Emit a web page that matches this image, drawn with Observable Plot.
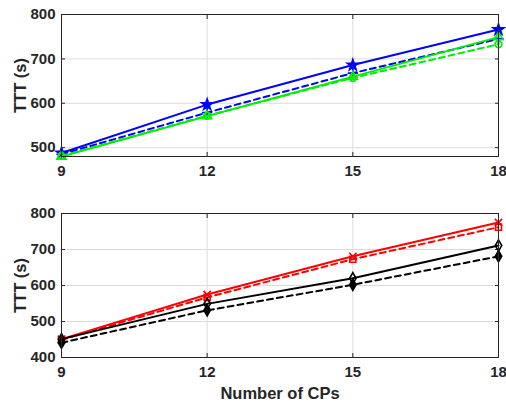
<!DOCTYPE html>
<html>
<head>
<meta charset="utf-8">
<script src="https://cdn.jsdelivr.net/npm/d3@7"></script>
<script src="https://cdn.jsdelivr.net/npm/@observablehq/plot@0.6"></script>
<style>
  body { margin: 0; background: #fff; }
  #chart { width: 506px; height: 410px; position: relative; }
  #chart svg { display: block; }
</style>
</head>
<body>
<div id="chart"></div>
<script>
const cps = [9, 12, 15, 18];
const xTicks = [9, 12, 15, 18];
const topYTicks = [500, 600, 700, 800];
const bottomYTicks = [400, 500, 600, 700, 800];

// top panel
const blueSolid  = [488, 597, 686, 766];
const blueDash   = [485, 579, 668, 745];
const greenSolid = [480, 571, 660, 749];
const greenDash  = [481, 572, 657, 733];
// bottom panel
const redSolid   = [451, 575, 681, 775];
const redDash    = [449, 567, 673, 762];
const blackSolid = [451, 549, 620, 711];
const blackDash  = [441, 531, 602, 681];

const yLabel = "TTT (s)";
const xLabel = "Number of CPs";

function rows(values, name, color, dashed, symbol, filled) {
  return values.map((v, i) => ({x: cps[i], y: v, name, color, dashed, symbol, filled}));
}

const topSeries = [
  rows(blueSolid, "bs", "#0000ff", false, "star", true),
  rows(blueDash, "bd", "#0000ff", true, "plus", false),
  rows(greenSolid, "gs", "#00ee00", false, "triangle", false),
  rows(greenDash, "gd", "#00ee00", true, "circle", false)
];
const bottomSeries = [
  rows(redSolid, "rs", "#ff0000", false, "times", false),
  rows(redDash, "rd", "#ff0000", true, "square", false),
  rows(blackSolid, "ks", "#000000", false, "diamond", false),
  rows(blackDash, "kd", "#000000", true, "diamond", true)
];

const ink = "#262626";

function panel(series, yDomain, yTicks, opts) {
  const marks = [
    Plot.gridX(xTicks, {stroke: "#dcdcdc", strokeOpacity: 1}),
    Plot.gridY(yTicks, {stroke: "#dcdcdc", strokeOpacity: 1}),
    Plot.axisX({ticks: xTicks, tickSize: -4, tickPadding: 13, stroke: ink, fill: ink, label: null}),
    Plot.axisX({anchor: "top", ticks: xTicks, tickSize: -4, tickFormat: () => "", stroke: ink, label: null}),
    Plot.axisY({ticks: yTicks, tickSize: -4, tickPadding: 10, stroke: ink, fill: ink, label: null}),
    Plot.axisY({anchor: "right", ticks: yTicks, tickSize: -4, tickFormat: () => "", stroke: ink, label: null}),
  ];
  for (const s of series) {
    marks.push(Plot.line(s, {
      x: "x", y: "y", stroke: s[0].color, strokeWidth: 2,
      strokeDasharray: s[0].dashed ? "6,4" : null
    }));
    marks.push(Plot.dot(s, {
      x: "x", y: "y", symbol: () => s[0].symbol, r: 3.4,
      stroke: s[0].color, strokeWidth: 1.6,
      fill: s[0].filled ? s[0].color : "none"
    }));
  }
  marks.push(Plot.frame({stroke: ink, strokeWidth: 1}));
  marks.push(Plot.text([yLabel], {
    frameAnchor: "left", dx: -41, rotate: -90, text: d => d,
    fontSize: 16.5, fontWeight: "bold", fill: ink, textAnchor: "middle"
  }));
  if (opts.xLabel) {
    marks.push(Plot.text([opts.xLabel], {
      frameAnchor: "bottom", dy: 36, text: d => d,
      fontSize: 16.5, fontWeight: "bold", fill: ink, lineAnchor: "middle"
    }));
  }
  return Plot.plot({
    width: 506,
    height: opts.height,
    marginLeft: 61,
    marginRight: 8,
    marginTop: opts.marginTop,
    marginBottom: opts.marginBottom,
    x: {domain: [9, 18]},
    y: {domain: yDomain},
    style: {fontFamily: "'Liberation Sans', Arial, sans-serif", fontSize: "15px", fontWeight: "bold", color: ink, background: "#fff"},
    marks
  });
}

const chart = document.getElementById("chart");
chart.appendChild(panel(topSeries, [480, 800], topYTicks, {height: 185, marginTop: 14, marginBottom: 29}));
chart.appendChild(panel(bottomSeries, [400, 800], bottomYTicks, {height: 225, marginTop: 28, marginBottom: 53, xLabel}));
</script>
</body>
</html>
